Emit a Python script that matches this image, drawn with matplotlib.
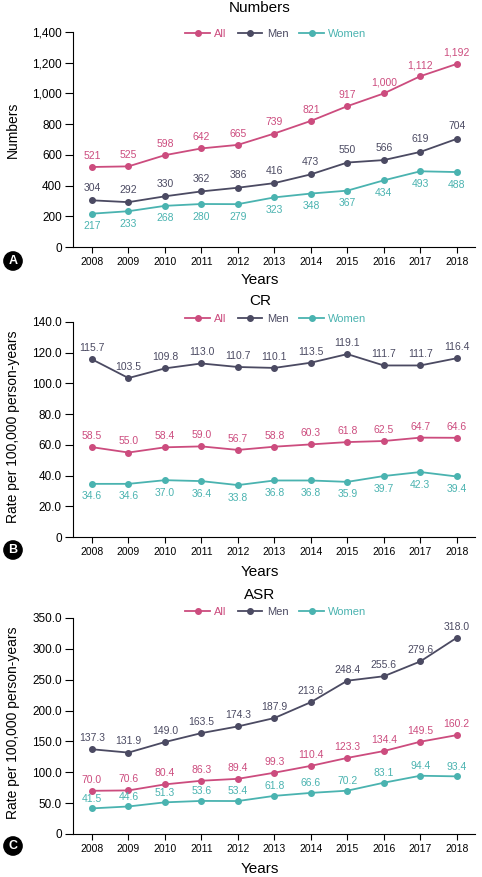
import matplotlib
matplotlib.use('Agg')
import matplotlib.pyplot as plt
from matplotlib.ticker import FuncFormatter

plt.rcParams['font.family'] = ['Liberation Sans Narrow', 'Liberation Sans', 'DejaVu Sans']

years = list(range(2008, 2019))

# Panel A: numbers
num_all = [521, 525, 598, 642, 665, 739, 821, 917, 1000, 1112, 1192]
num_men = [304, 292, 330, 362, 386, 416, 473, 550, 566, 619, 704]
num_women = [217, 233, 268, 280, 279, 323, 348, 367, 434, 493, 488]

# Panel B: crude rate
cr_all = [58.5, 55.0, 58.4, 59.0, 56.7, 58.8, 60.3, 61.8, 62.5, 64.7, 64.6]
cr_men = [115.7, 103.5, 109.8, 113.0, 110.7, 110.1, 113.5, 119.1, 111.7, 111.7, 116.4]
cr_women = [34.6, 34.6, 37.0, 36.4, 33.8, 36.8, 36.8, 35.9, 39.7, 42.3, 39.4]

# Panel C: age-standardised rate
asr_all = [70.0, 70.6, 80.4, 86.3, 89.4, 99.3, 110.4, 123.3, 134.4, 149.5, 160.2]
asr_men = [137.3, 131.9, 149.0, 163.5, 174.3, 187.9, 213.6, 248.4, 255.6, 279.6, 318.0]
asr_women = [41.5, 44.6, 51.3, 53.6, 53.4, 61.8, 66.6, 70.2, 83.1, 94.4, 93.4]

C_ALL = '#cc4c7e'
C_MEN = '#4b4a62'
C_WOMEN = '#4ab3b0'

W, H = 482, 877
fig = plt.figure(figsize=(W / 100, H / 100), dpi=100)


def px_axes(top, bottom, left=73, right=475):
    return fig.add_axes([left / W, 1 - bottom / H, (right - left) / W, (bottom - top) / H])


def fmt_num(v, pos):
    return f'{int(v):,}'


def fmt_rate(v, pos):
    return '0' if v == 0 else f'{v:.1f}'


def draw_panel(ax, series, ymax, ystep, fmt, label_fmt, legend_y):
    # series: (values, colour, name, label offset in points)
    for vals, col, name, dy in series:
        ax.plot(years, vals, color=col, lw=1.3, marker='o', ms=4, label=name)
        for x, v in zip(years, vals):
            ax.annotate(label_fmt(v), (x, v), xytext=(0, dy), textcoords='offset points',
                        ha='center', va='center', fontsize=7.5, color=col)
    ax.set_xlim(2007.48, 2018.5)
    ax.set_ylim(0, ymax)
    ax.set_yticks([i * ystep for i in range(int(round(ymax / ystep)) + 1)])
    ax.yaxis.set_major_formatter(FuncFormatter(fmt))
    ax.set_xticks(years)
    ax.spines['top'].set_visible(False)
    ax.spines['right'].set_visible(False)
    ax.tick_params(axis='y', length=6, width=0.8, labelsize=8.5, pad=2)
    ax.tick_params(axis='x', length=4, width=0.8, labelsize=7.5, pad=3)
    leg = ax.legend(loc='center', bbox_to_anchor=(0.505, legend_y), ncol=3, frameon=False,
                    fontsize=8, handlelength=2.2, handletextpad=0.4, columnspacing=1.0)
    for txt, s in zip(leg.get_texts(), series):
        txt.set_color(s[1])


def deco(title, title_y, years_y, ylabel, ylabel_y, letter, letter_y):
    fig.text(260 / W, 1 - title_y / H, title, ha='center', va='center', fontsize=11)
    fig.text(260 / W, 1 - years_y / H, 'Years', ha='center', va='center', fontsize=11)
    fig.text(13 / W, 1 - ylabel_y / H, ylabel, ha='center', va='center', rotation=90, fontsize=10)
    fig.text(13 / W, 1 - letter_y / H, letter, ha='center', va='center', fontsize=9,
             fontweight='bold', color='white',
             bbox=dict(boxstyle='circle,pad=0.25', fc='black', ec='black'))


ax_a = px_axes(32, 247)
draw_panel(ax_a, [(num_all, C_ALL, 'All', 8), (num_men, C_MEN, 'Men', 9),
                  (num_women, C_WOMEN, 'Women', -9)],
           1400, 200, fmt_num, lambda v: f'{v:,}', 0.99)
deco('Numbers', 8, 280, 'Numbers', 130, 'A', 261)

ax_b = px_axes(322, 537)
draw_panel(ax_b, [(cr_all, C_ALL, 'All', 8), (cr_men, C_MEN, 'Men', 8),
                  (cr_women, C_WOMEN, 'Women', -9)],
           140, 20, fmt_rate, lambda v: f'{v:.1f}', 1.014)
deco('CR', 301, 572, 'Rate per 100,000 person-years', 427, 'B', 550)

ax_c = px_axes(618, 834)
draw_panel(ax_c, [(asr_all, C_ALL, 'All', 8), (asr_men, C_MEN, 'Men', 8),
                  (asr_women, C_WOMEN, 'Women', 7)],
           350, 50, fmt_rate, lambda v: f'{v:.1f}', 1.028)
deco('ASR', 595, 869, 'Rate per 100,000 person-years', 723, 'C', 846)

fig.savefig('out.png', dpi=100)
